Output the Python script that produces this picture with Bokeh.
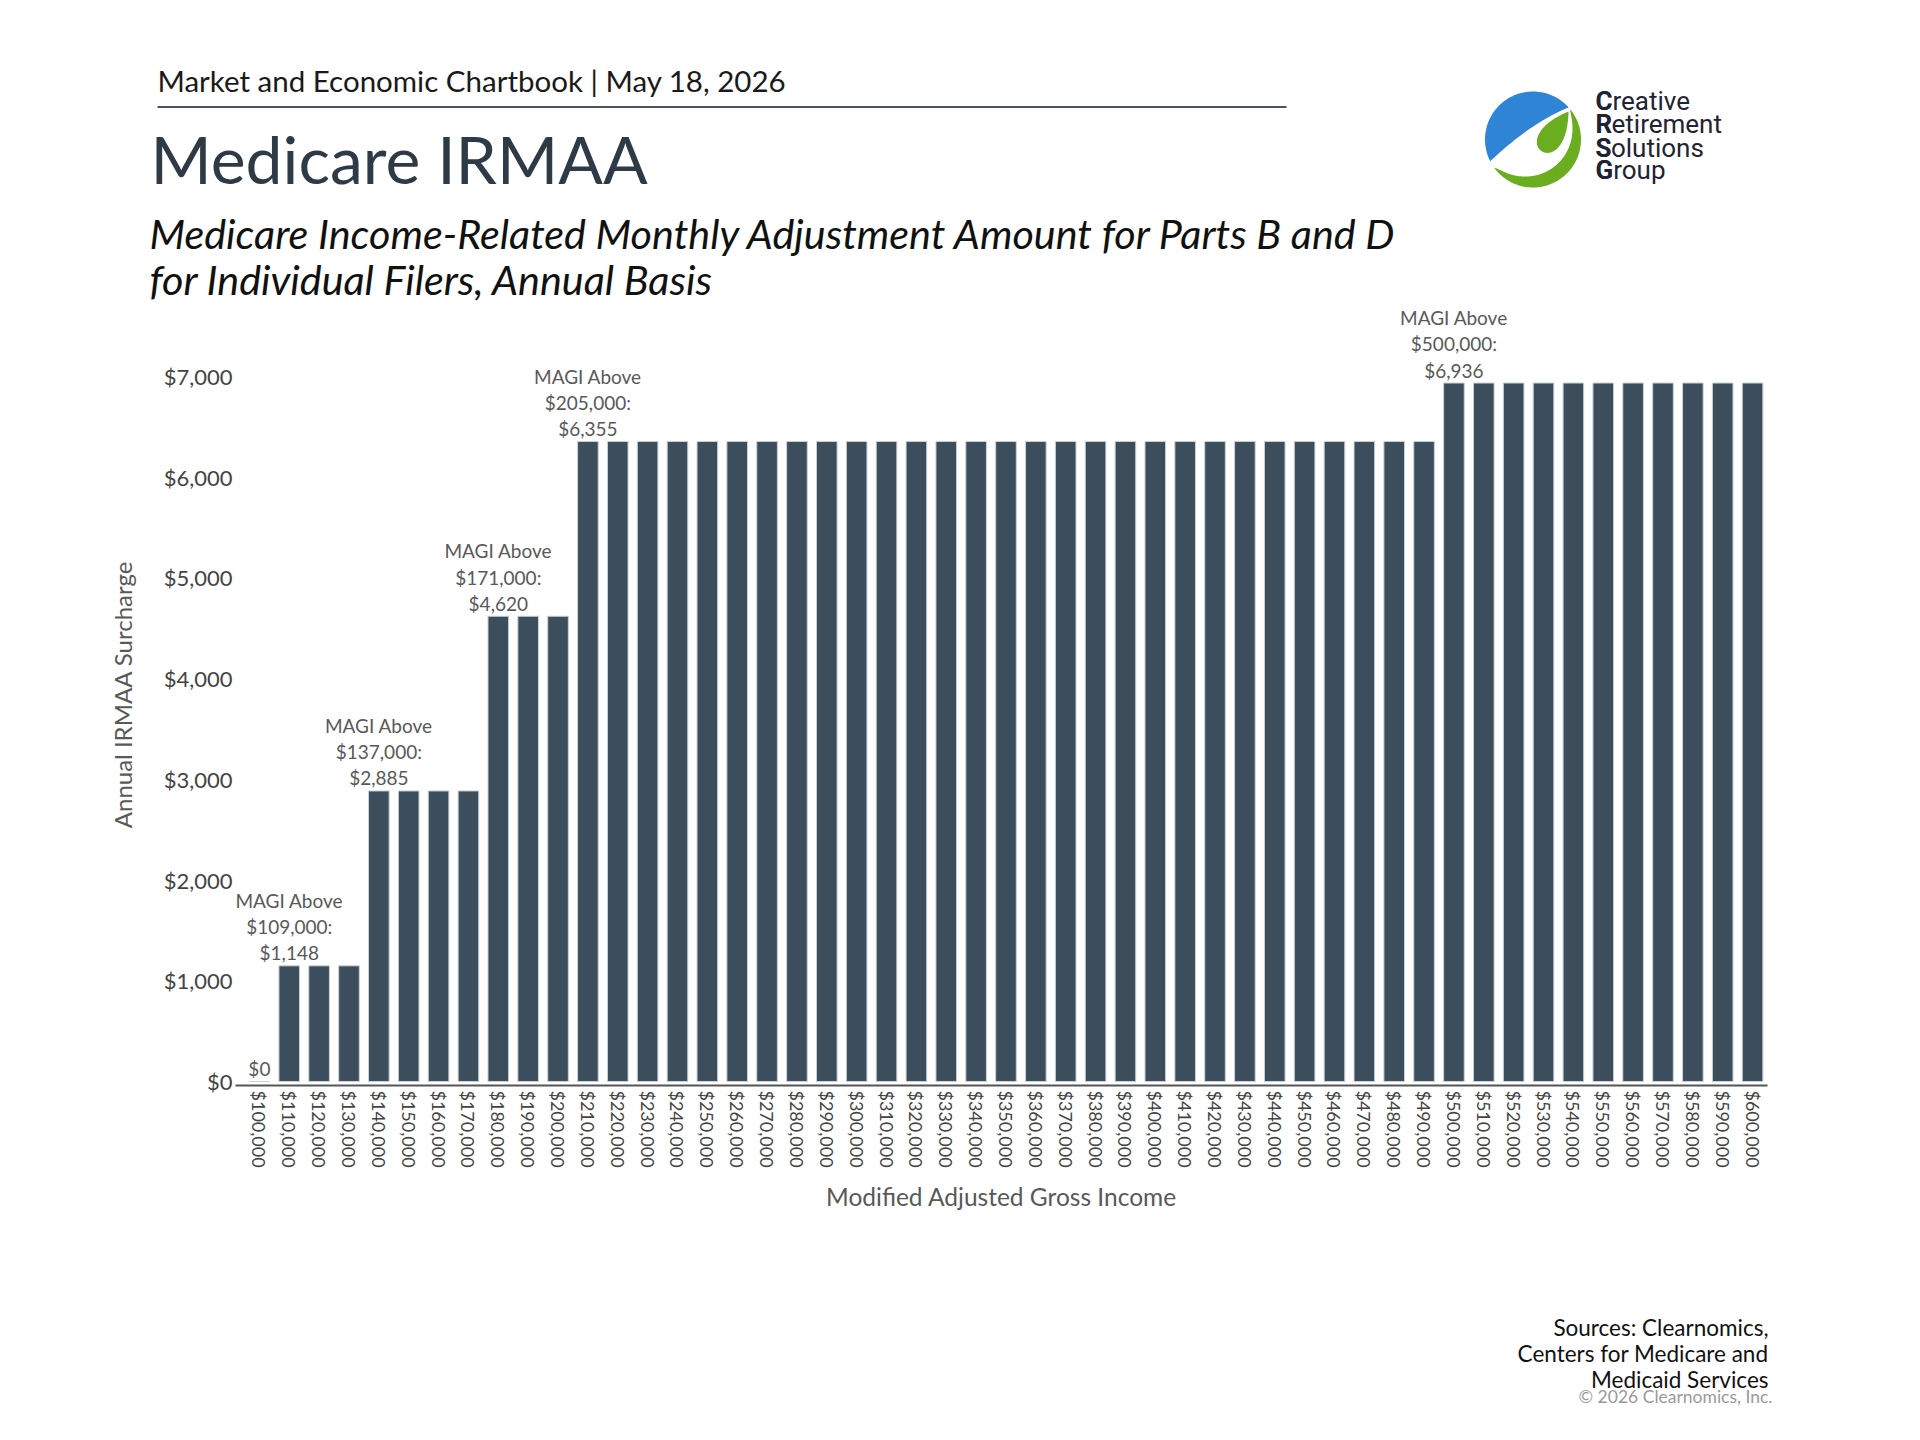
import numpy as np
from bokeh.plotting import figure
from bokeh.layouts import column
from bokeh.models import (ColumnDataSource, Range1d, FixedTicker, NumeralTickFormatter)
from bokeh.core.properties import value
from bokeh.embed import file_html
from bokeh.resources import INLINE

# ---------------- data ----------------
income = [100000, 110000, 120000, 130000, 140000, 150000, 160000, 170000, 180000, 190000,
          200000, 210000, 220000, 230000, 240000, 250000, 260000, 270000, 280000, 290000,
          300000, 310000, 320000, 330000, 340000, 350000, 360000, 370000, 380000, 390000,
          400000, 410000, 420000, 430000, 440000, 450000, 460000, 470000, 480000, 490000,
          500000, 510000, 520000, 530000, 540000, 550000, 560000, 570000, 580000, 590000,
          600000]
surcharge = [0, 1148, 1148, 1148, 2885, 2885, 2885, 2885, 4620, 4620,
             4620, 6355, 6355, 6355, 6355, 6355, 6355, 6355, 6355, 6355,
             6355, 6355, 6355, 6355, 6355, 6355, 6355, 6355, 6355, 6355,
             6355, 6355, 6355, 6355, 6355, 6355, 6355, 6355, 6355, 6355,
             6936, 6936, 6936, 6936, 6936, 6936, 6936, 6936, 6936, 6936,
             6936]
y_ticks = [0, 1000, 2000, 3000, 4000, 5000, 6000, 7000]
label_income = [100000, 110000, 140000, 180000, 210000, 500000]
label_value = [0, 1148, 2885, 4620, 6355, 6936]
label_text = ["$0",
              "MAGI Above\n$109,000:\n$1,148",
              "MAGI Above\n$137,000:\n$2,885",
              "MAGI Above\n$171,000:\n$4,620",
              "MAGI Above\n$205,000:\n$6,355",
              "MAGI Above\n$500,000:\n$6,936"]
source_lines = ["Sources: Clearnomics,", "Centers for Medicare and", "Medicaid Services"]
logo_words = ["Creative", "Retirement", "Solutions", "Group"]

FONT = "Lato"
BAR = "#3c4d5c"
W = 1900
HDR_H, MAIN_H = 303, 1000
FTR_H = 1440 - HDR_H - MAIN_H
FRAME_H = 1085 - HDR_H          # frame bottom sits at page y 1085
PX_PER_UNIT = 0.1007            # 100.7 px per $1,000


def blank(height, y0):
    f = figure(width=W, height=height, x_range=Range1d(0, W), y_range=Range1d(y0 + height, y0),
               toolbar_location=None, output_backend="svg", x_axis_type=None, y_axis_type=None,
               min_border=0)
    f.outline_line_color = None
    f.grid.visible = False
    f.background_fill_color = "white"
    f.border_fill_color = "white"
    return f


def txt(f, s, x, y, size, color, font=FONT, style="normal", align="left"):
    f.text(x=[x], y=[y], text=[s], text_font=value(font), text_font_size=f"{size}px",
           text_color=color, text_font_style=style, text_align=align, text_baseline="middle")


# ---------------- header ----------------
hdr = blank(HDR_H, 0)
txt(hdr, "Market and Economic Chartbook | May 18, 2026", 157, 80, 29.5, "#1a1a1a")
hdr.line(x=[157, 1286], y=[106.5, 106.5], line_width=2, line_color="#4a5560")
txt(hdr, "Medicare IRMAA", 150, 158, 66, "#2e3a46")
txt(hdr, "Medicare Income-Related Monthly Adjustment Amount for Parts B and D", 149, 232.5, 41.3,
    "#111111", style="italic")
txt(hdr, "for Individual Filers, Annual Basis", 149, 278, 41.3, "#111111", style="italic")

# logo (local coords y-up, centre at page (cx, cy))
cx, cy, R = 1532.5, 139, 48


def to_page(lx, ly):
    return [cx + v for v in lx], [cy - v for v in ly]


th = np.radians(np.linspace(42, 207, 70))
ox, oy = R * np.cos(th), R * np.sin(th)
E = np.array([ox[-1], oy[-1]]); S = np.array([ox[0], oy[0]]); C = np.array([-2.5, 16.5])
t = np.linspace(0, 1, 40)
bx = (1 - t) ** 2 * E[0] + 2 * (1 - t) * t * C[0] + t ** 2 * S[0]
by = (1 - t) ** 2 * E[1] + 2 * (1 - t) * t * C[1] + t ** 2 * S[1]
px_, py_ = to_page(list(ox) + list(bx), list(oy) + list(by))
hdr.patch(px_, py_, fill_color="#2f84d6", line_color=None)

deg = np.linspace(216, 399, 90)
th = np.radians(deg)
thick = 13.5 * np.sin(np.pi * (deg - 216) / 183) ** 0.7
ox, oy = R * np.cos(th), R * np.sin(th)
ix, iy = (R - thick) * np.cos(th), (R - thick) * np.sin(th)
px_, py_ = to_page(list(ox) + list(ix[::-1]), list(oy) + list(iy[::-1]))
hdr.patch(px_, py_, fill_color="#6aad1f", line_color=None)

tt = np.linspace(0, 2 * np.pi, 90)
Lw, Ww = 48, 24
u = (Lw / 2) * np.cos(tt)
v = (Ww / 2 / 0.77) * np.sin(tt) * np.sin(tt / 2)
ang = np.radians(55.7)
lx = 22 + u * np.cos(ang) - v * np.sin(ang)
ly = 8.2 + u * np.sin(ang) + v * np.cos(ang)
px_, py_ = to_page(list(lx), list(ly))
hdr.patch(px_, py_, fill_color="#6aad1f", line_color=None)

LOGO_FONT = "Roboto"
for word, yy in zip(logo_words, [100, 123, 147, 169]):
    txt(hdr, word, 1595, yy, 26, "#1f2333", font=LOGO_FONT)
    txt(hdr, word[0], 1595, yy, 26, "#1f2333", font=LOGO_FONT, style="bold")

# ---------------- main chart ----------------
p = figure(width=W, height=MAIN_H, output_backend="svg", toolbar_location=None,
           x_range=Range1d(92000, 605000), y_range=Range1d(-40, -40 + FRAME_H / PX_PER_UNIT),
           min_border_left=235, min_border_right=W - 235 - 1532, min_border_top=0,
           min_border_bottom=MAIN_H - FRAME_H)
p.outline_line_color = None
p.grid.visible = False
p.background_fill_color = "white"
p.border_fill_color = "white"

src = ColumnDataSource(dict(x=income, top=surcharge))
p.vbar(x="x", top="top", bottom=0, width=6900, source=src,
       fill_color=BAR, line_color="#c8d1d9", line_width=1)

lsrc = ColumnDataSource(dict(x=label_income, y=label_value, t=label_text))
p.text(x="x", y="y", text="t", source=lsrc, text_align="center", text_baseline="bottom",
       y_offset=-1.5, text_font=value(FONT), text_font_size="19px", text_color="#595959",
       text_line_height=1.14)

xa = p.xaxis[0]
xa.ticker = FixedTicker(ticks=income)
xa.formatter = NumeralTickFormatter(format="$0,0")
xa.major_label_orientation = -np.pi / 2
xa.major_tick_line_color = None
xa.minor_tick_line_color = None
xa.major_tick_out = 0
xa.major_tick_in = 0
xa.axis_line_color = "#555555"
xa.axis_line_width = 2
xa.major_label_standoff = 5
xa.major_label_text_font = FONT
xa.major_label_text_font_size = "18px"
xa.major_label_text_color = "#444444"
xa.axis_label = "Modified Adjusted Gross Income"
xa.axis_label_standoff = 11
xa.axis_label_text_font = FONT
xa.axis_label_text_font_size = "24.5px"
xa.axis_label_text_font_style = "normal"
xa.axis_label_text_color = "#595959"

ya = p.yaxis[0]
ya.ticker = FixedTicker(ticks=y_ticks)
ya.formatter = NumeralTickFormatter(format="$0,0")
ya.axis_line_color = None
ya.major_tick_line_color = None
ya.minor_tick_line_color = None
ya.major_tick_out = 0
ya.major_tick_in = 0
ya.major_label_standoff = 3
ya.major_label_text_font = FONT
ya.major_label_text_font_size = "22px"
ya.major_label_text_color = "#444444"
ya.axis_label = "Annual IRMAA Surcharge"
ya.axis_label_standoff = 24
ya.axis_label_text_font = FONT
ya.axis_label_text_font_size = "24px"
ya.axis_label_text_font_style = "normal"
ya.axis_label_text_color = "#595959"

# ---------------- footer ----------------
ftr = blank(FTR_H, HDR_H + MAIN_H)
for i, line in enumerate(source_lines):
    txt(ftr, line, 1768, 1327 + 26 * i, 22.5, "#111111", align="right")
txt(ftr, "\u00a9 2026 Clearnomics, Inc.", 1772, 1396, 17.5, "#9a9a9a", align="right")

layout = column(column(hdr, spacing=0), p, column(ftr, spacing=0), spacing=0)
open("out.html", "w").write(file_html(layout, INLINE))
